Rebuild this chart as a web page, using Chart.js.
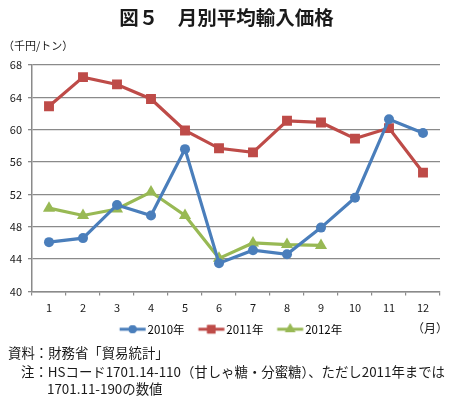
<!DOCTYPE html>
<html>
<head>
<meta charset="utf-8">
<script src="https://cdn.jsdelivr.net/npm/chart.js@4.4.0/dist/chart.umd.min.js"></script>
<style>
  body { margin: 0; background: #fff; font-family: "Noto Sans CJK JP", sans-serif; color: #1a1a1a; }
  #wrap { position: relative; width: 453px; height: 398px; overflow: hidden; }
  #wrap div { position: absolute; white-space: nowrap; }
  canvas { position: absolute; left: 0; top: 0; }
</style>
</head>
<body>
<div id="wrap">
  <canvas id="grafico" width="456" height="347"></canvas>
  <div style="left:0;width:453px;top:4px;text-align:center;font-size:19.5px;font-weight:bold;line-height:26px;">図５　月別平均輸入価格</div>
  <div style="left:3px;top:37px;font-size:11px;line-height:16px;">（千円/トン）</div>
  <div style="left:412px;top:319px;font-size:12px;line-height:18px;">（月）</div>
  <div style="left:8px;top:343px;font-size:13.4px;line-height:18px;">資料：財務省「貿易統計」</div>
  <div style="left:21px;top:362px;font-size:13.4px;line-height:18px;">注：HSコード1701.14-110（甘しゃ糖・分蜜糖）、ただし2011年までは</div>
  <div style="left:47px;top:379px;font-size:13.4px;line-height:18px;">1701.11-190の数値</div>
</div>
<script>
// dados
var meses = ['1', '2', '3', '4', '5', '6', '7', '8', '9', '10', '11', '12'];
var valores2010 = [46.1, 46.6, 50.7, 49.4, 57.6, 43.5, 45.1, 44.6, 47.9, 51.6, 61.3, 59.6];
var valores2011 = [62.9, 66.5, 65.6, 63.8, 59.9, 57.7, 57.2, 61.1, 60.9, 58.9, 60.2, 54.7];
var valores2012 = [50.3, 49.4, 50.2, 52.3, 49.4, 44.1, 46.0, 45.8, 45.7];
var nomesSeries = ['2010年', '2011年', '2012年'];
var coresSeries = ['#4a7ebb', '#be4b48', '#98b954'];
var estilos = ['circle', 'rect', 'triangle'];
var raios = [5, 7, 7];

// ícone da legenda: linha com marcador no meio
function iconeLegenda(cor, estilo, raio) {
    var c = document.createElement('canvas');
    c.width = 44; c.height = 14;
    var g = c.getContext('2d');
    g.strokeStyle = cor; g.lineWidth = 3;
    g.beginPath(); g.moveTo(13.75, 7); g.lineTo(39.75, 7); g.stroke();
    g.fillStyle = cor;
    Chart.helpers.drawPoint(g, { pointStyle: estilo, radius: raio - 1, borderWidth: 0 }, 26.75, 7);
    g.fill();
    return c;
}

var series = [valores2010, valores2011, valores2012];
var datasets = series.map(function (v, i) {
    return {
        label: nomesSeries[i],
        data: v,
        borderColor: coresSeries[i],
        backgroundColor: coresSeries[i],
        borderWidth: 3.2,
        pointStyle: estilos[i],
        pointRadius: raios[i],
        pointBorderWidth: 0,
        pointHoverRadius: raios[i],
        tension: 0
    };
});

var fonte = '"Noto Sans CJK JP", sans-serif';
var ctx = document.getElementById('grafico').getContext('2d');
new Chart(ctx, {
    type: 'line',
    data: { labels: meses, datasets: datasets },
    options: {
        responsive: false,
        animation: false,
        layout: { padding: { top: 65, left: 0, right: 0, bottom: 2 } },
        plugins: {
            tooltip: { enabled: false },
            legend: {
                position: 'bottom',
                labels: {
                    usePointStyle: true,
                    pointStyleWidth: 28,
                    padding: 8,
                    color: '#1a1a1a',
                    font: { family: fonte, size: 11.5 },
                    generateLabels: function (chart) {
                        return chart.data.datasets.map(function (d, i) {
                            return {
                                text: d.label,
                                pointStyle: iconeLegenda(coresSeries[i], estilos[i], raios[i]),
                                fillStyle: coresSeries[i],
                                strokeStyle: coresSeries[i],
                                lineWidth: 0,
                                hidden: false,
                                datasetIndex: i
                            };
                        });
                    }
                }
            }
        },
        scales: {
            x: {
                offset: true,
                afterFit: function (s) { s.height = 24; },
                grid: { offset: true, drawOnChartArea: false, drawTicks: true, tickLength: 4, color: '#8a8a8a', lineWidth: 1.2 },
                border: { color: '#8a8a8a', width: 1.5 },
                ticks: { color: '#1a1a1a', padding: 6, maxRotation: 0, font: { family: fonte, size: 11 } }
            },
            y: {
                min: 40,
                max: 68,
                afterFit: function (s) { s.width = 32; },
                grid: { color: '#8a8a8a', lineWidth: 1.3, tickLength: 4 },
                border: { color: '#8a8a8a', width: 1.5 },
                ticks: { stepSize: 4, color: '#1a1a1a', padding: 6, font: { family: fonte, size: 11 } }
            },
            // eixo vazio só para reservar a margem direita
            margemDireita: {
                position: 'right',
                afterFit: function (s) { s.width = 16; },
                grid: { display: false },
                border: { display: false },
                ticks: { display: false }
            }
        }
    }
});
</script>
</body>
</html>
